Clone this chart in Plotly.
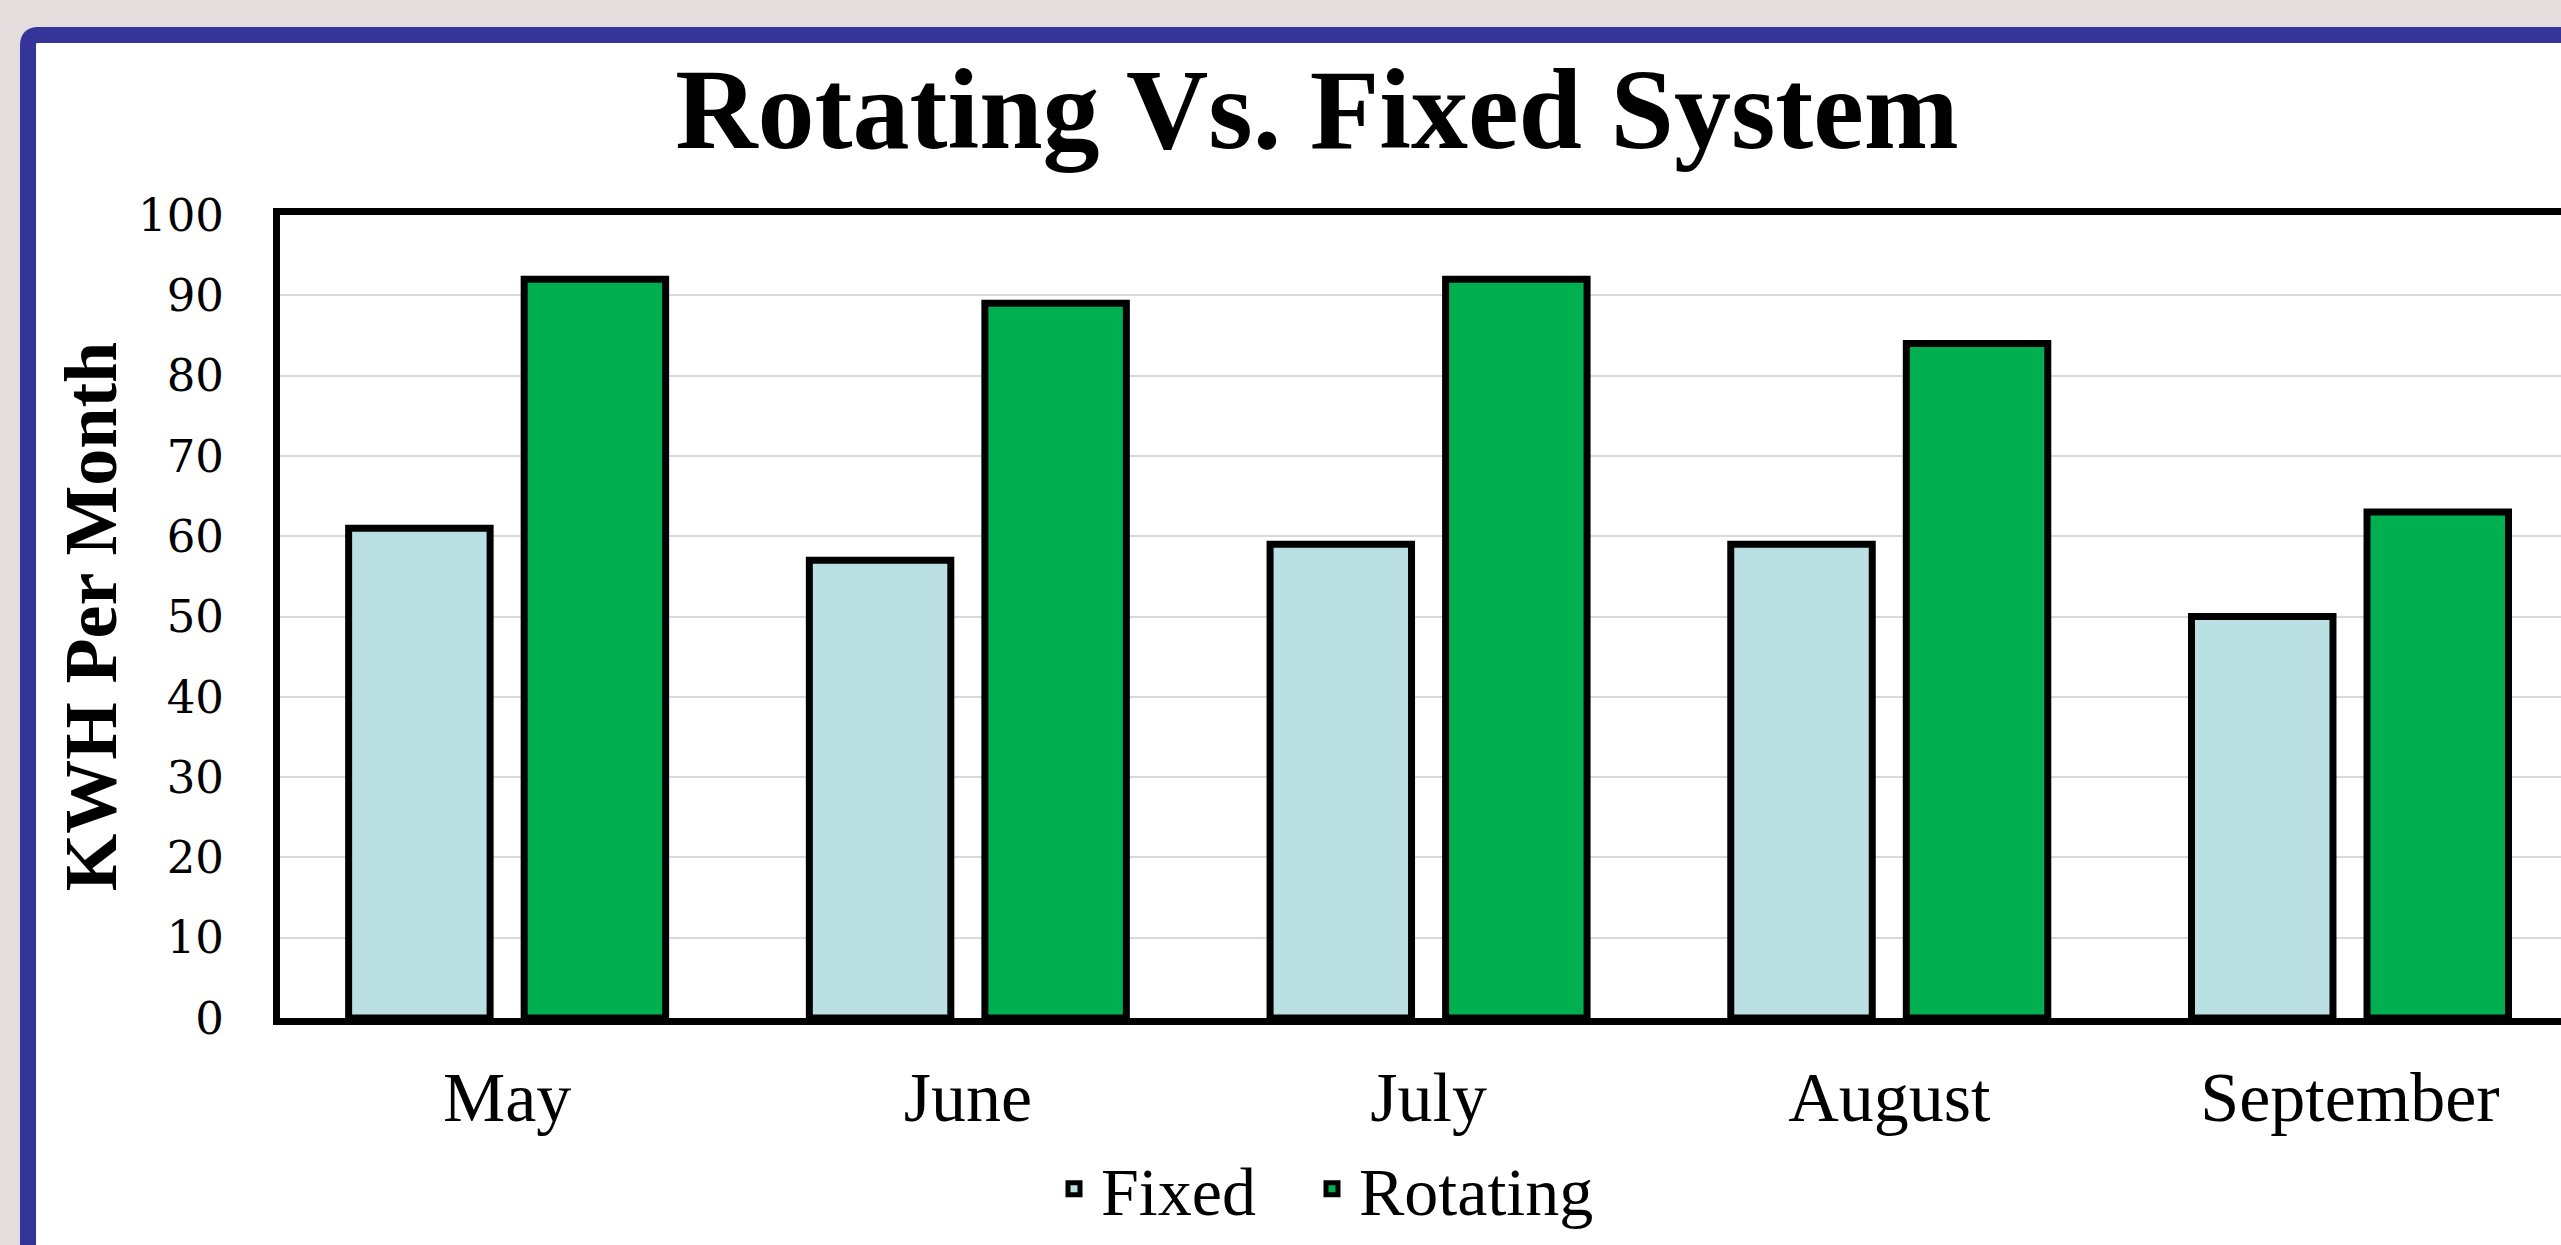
import plotly.graph_objects as go

# ---- data ----
months = ["May", "June", "July", "August", "September"]
fixed = [61, 57, 59, 59, 50]
rotating = [92, 89, 92, 84, 63]
series_names = ["Fixed", "Rotating"]
y_ticks = [0, 10, 20, 30, 40, 50, 60, 70, 80, 90, 100]

W, H = 2561, 1245
L, R, T, B = 280, 0, 215, 227
PW, PH = W - L - R, H - T - B


def px(x):
    return (x - L) / PW


def py(y):
    return (H - B - y) / PH


fig = go.Figure()
fig.add_trace(go.Bar(name=series_names[0], x=months, y=fixed, legend="legend",
                     showlegend=True,
                     marker=dict(color="#BBE0E3", line=dict(color="black", width=7))))
fig.add_trace(go.Bar(name=series_names[1], x=months, y=rotating, legend="legend2",
                     showlegend=True,
                     marker=dict(color="#00AF50", line=dict(color="black", width=7))))

# slide panel with purple frame (decoration)
x0, y0, r = 28, 35, 10
panel = (f"M {px(x0)},{py(1400)} L {px(x0)},{py(y0 + r)} "
         f"Q {px(x0)},{py(y0)} {px(x0 + r)},{py(y0)} L {px(2700)},{py(y0)} "
         f"L {px(2700)},{py(1400)} Z")
fig.add_shape(type="path", path=panel, xref="paper", yref="paper",
              fillcolor="white", line=dict(color="#353599", width=16), layer="below")

legend_style = dict(orientation="h", xanchor="left", yanchor="middle", y=py(1189),
                    font=dict(family="Liberation Serif", size=68, color="black"),
                    bgcolor="rgba(0,0,0,0)", itemwidth=44)

fig.update_layout(
    width=W, height=H,
    margin=dict(l=L, r=R, t=T, b=B, pad=0),
    paper_bgcolor="#E3DDDD",
    plot_bgcolor="white",
    showlegend=True,
    barmode="group",
    bargap=0.238,
    bargroupgap=0.194,
    title=dict(text="<b>Rotating Vs. Fixed System</b>",
               font=dict(family="Liberation Serif", size=114, color="black"),
               x=1317 / W, xanchor="center", xref="container",
               y=1 - 108 / H, yanchor="middle", yref="container"),
    legend=dict(legend_style, x=px(1047)),
    legend2=dict(legend_style, x=px(1305), visible=True),
    xaxis=dict(range=[-0.493, 4.458], showline=True, linewidth=7, linecolor="black",
               mirror=True, showgrid=False, ticks="", ticklabelstandoff=12,
               tickfont=dict(family="Liberation Serif", size=70, color="black")),
    yaxis=dict(range=[0, 100], tickvals=y_ticks, showline=True, linewidth=7,
               linecolor="black", mirror=False, showgrid=True, gridcolor="#D9D9D9",
               gridwidth=2, ticks="", ticklabelstandoff=40, zeroline=False,
               tickfont=dict(family="DejaVu Serif", size=45, color="black"),
               title=dict(text="<b>KWH Per Month</b>", standoff=0,
                          font=dict(family="Liberation Serif", size=74, color="black"))),
)

fig.write_html("out.html")
